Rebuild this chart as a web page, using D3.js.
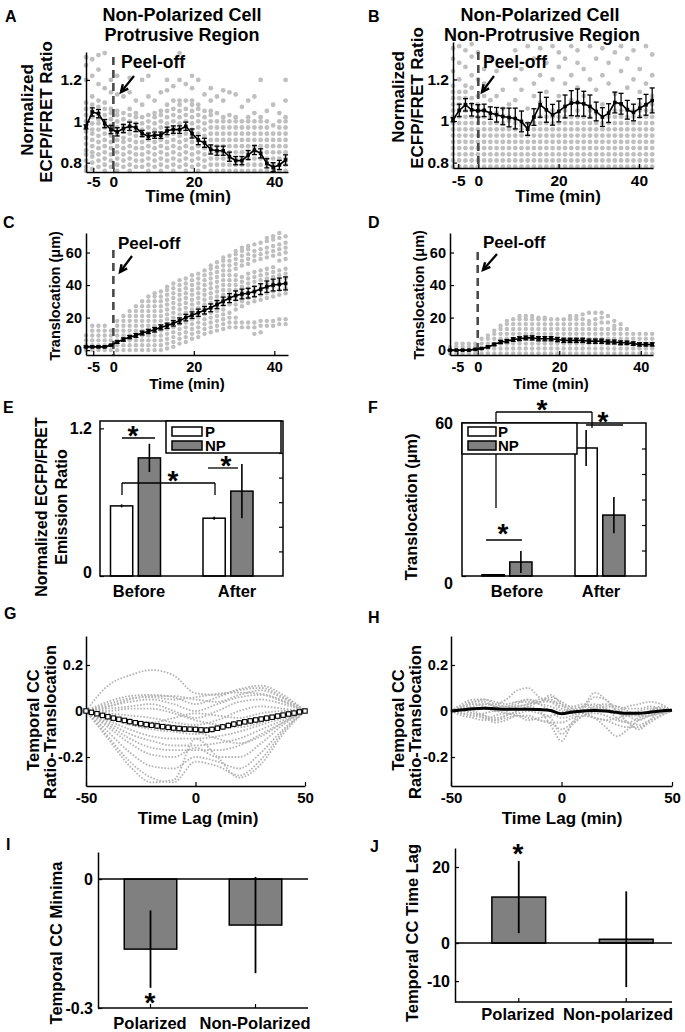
<!DOCTYPE html>
<html><head><meta charset="utf-8">
<script src="https://cdn.jsdelivr.net/npm/d3@7"></script>
<style>
body{margin:0;background:#fff;}
svg text{font-family:"Liberation Sans",Arial,Helvetica,sans-serif;font-weight:bold;fill:#000;}
</style></head><body>
<svg id="fig" width="685" height="1032"></svg>
<script>
// ---------------- DATA ----------------
const timesA = [-6.8,-5.25,-3.7,-2.15,-0.6,0.95,2.5,4.05,5.6,7.15,8.7,10.25,11.8,13.35,14.9,16.45,18,19.55,21.1,22.65,24.2,25.75,27.3,28.85,30.4,31.95,33.5,35.05,36.6,38.15,39.7,41.25,42.8];
const timesB = [-6.3,-4.75,-3.2,-1.65,-0.1,1.45,3,4.55,6.1,7.65,9.2,10.75,12.3,13.85,15.4,16.95,18.5,20.05,21.6,23.15,24.7,26.25,27.8,29.35,30.9,32.45,34,35.55,37.1,38.65,40.2,41.75,43.3];
const timeTicks = [-5,0,20,40];

const meanA = [0.973,1.045,1.037,0.989,0.96,0.949,0.965,0.976,0.97,0.941,0.928,0.933,0.933,0.954,0.96,0.96,0.976,0.941,0.909,0.896,0.864,0.858,0.858,0.829,0.81,0.81,0.837,0.861,0.845,0.797,0.778,0.789,0.813];
const errA = [0.01,0.02,0.02,0.02,0.02,0.02,0.02,0.02,0.02,0.015,0.015,0.015,0.015,0.018,0.018,0.018,0.02,0.022,0.022,0.022,0.022,0.022,0.022,0.022,0.02,0.02,0.022,0.022,0.022,0.022,0.022,0.022,0.025];
// gray cell values per time point (hundredths)
const dotsA = [
[76,78,81,84,86,89,92,95,97,100,103,106,109,120,127,131],
[77,80,83,85,88,91,94,96,99,102,105,108,112,122,130],
[78,81,84,87,90,93,96,99,101,104,107,110,118,125,132],
[76,79,82,85,88,91,94,97,100,103,106,109,116,133],
[78,81,84,87,90,93,95,98,101,104,106,114,120],
[76,79,82,85,88,91,94,97,100,103,105,113,122],
[78,81,84,87,90,92,95,98,101,104,112],
[76,79,82,85,88,91,94,97,100,103,106,114,121],
[78,81,84,87,90,93,96,99,102,104,110],
[78,81,84,87,90,93,96,99,102,108,120],
[76,79,82,85,88,91,94,97,100,103,112,122],
[78,81,84,87,90,93,96,99,102,104,110],
[76,79,82,85,88,91,94,97,100,103,105,114],
[78,81,84,87,90,93,96,99,102,105,108,115,120],
[76,79,82,85,88,91,94,97,100,103,106,110,117],
[78,81,84,87,90,93,96,99,102,105,108,110,120,133],
[76,79,82,85,88,91,94,97,100,103,106,110,118],
[78,81,84,87,90,93,96,99,102,105,108,110,116,122],
[76,79,82,85,88,91,94,97,100,103,106,108,120],
[78,81,84,87,90,93,96,99,102,105,113],
[76,79,82,85,88,91,94,97,100,103,105,110,116],
[76,79,82,85,88,91,94,97,100,104,112],
[76,79,82,85,88,91,94,97,100,102,110,115],
[76,79,82,85,88,91,94,97,100,103,114],
[76,79,82,85,88,91,94,97,100,102,113],
[76,79,82,85,88,91,94,97,100,107],
[76,79,82,85,88,91,94,97,100,102,110],
[76,79,82,85,88,91,94,97,100,104,112],
[76,79,82,85,88,91,94,97,100,102,120],
[76,79,82,85,88,91,94,97,100,105],
[76,79,82,85,88,91,94,98,108],
[76,79,82,85,88,91,94,97,100,104],
[76,79,82,85,88,91,94,97,100,102,110,120]];

const meanB = [1.006,1.051,1.078,1.054,1.049,1.051,1.038,1.03,1.022,1.017,1.012,0.998,0.961,1.019,1.078,1.054,1.03,1.046,1.07,1.086,1.089,1.083,1.07,1.046,1.019,1.038,1.089,1.083,1.054,1.041,1.062,1.078,1.099];
const errB = [0.01,0.03,0.03,0.03,0.03,0.03,0.03,0.035,0.04,0.045,0.05,0.05,0.03,0.04,0.06,0.06,0.05,0.05,0.055,0.06,0.065,0.06,0.055,0.045,0.045,0.045,0.05,0.05,0.045,0.04,0.045,0.05,0.06];
const dotsB = [
[78,81,84,87,90,93,96,99,102,105,108,111,114,117,124,130,135],
[78,81,84,87,90,93,96,99,102,105,108,111,114,120,128,136],
[78,81,84,87,90,93,96,99,102,105,108,111,114,117,126,134],
[78,81,84,87,90,93,96,99,102,105,108,111,116,122,131,137],
[78,81,84,87,90,93,96,99,102,105,108,112,120,133],
[78,81,84,87,90,93,96,99,102,105,112,118,125],
[78,81,84,87,90,93,96,99,102,110,130],
[78,81,84,87,90,93,96,99,104,112,124],
[78,81,84,87,90,93,96,99,106,115],
[78,81,84,87,90,93,96,100,108,128],
[78,81,84,87,90,93,96,99,110,120,134],
[78,81,84,87,90,93,96,98,115,125],
[78,81,84,87,90,93,96,99,106,136],
[78,81,84,87,90,93,96,99,102,112,118,130],
[78,81,84,87,90,93,96,99,102,109,122,135],
[78,81,84,87,90,93,96,99,102,114,128],
[78,81,84,87,90,93,96,99,102,105,120,136],
[78,81,84,87,90,93,96,99,102,112,126,133],
[78,81,84,87,90,93,96,99,102,105,118,130],
[78,81,84,87,90,93,96,99,102,110,122,136],
[78,81,84,87,90,93,96,99,102,105,116,128,134],
[78,81,84,87,90,93,96,99,102,112,125],
[78,81,84,87,90,93,96,99,102,105,120,136],
[78,81,84,87,90,93,96,99,104,115,130],
[78,81,84,87,90,93,96,99,108,122,135],
[78,81,84,87,90,93,96,99,102,118,128],
[78,81,84,87,90,93,96,99,102,105,113,133],
[78,81,84,87,90,93,96,99,102,105,108,124,136],
[78,81,84,87,90,93,96,99,102,106,116,130],
[78,81,84,87,90,93,96,99,102,105,120,134],
[78,81,84,87,90,93,96,99,102,105,108,114,125],
[78,81,84,87,90,93,96,99,102,105,108,118,136],
[78,81,84,87,90,93,96,99,102,105,108,112,122,132]];

const meanC = [2,2,2,2,3,5,6.5,8,9,10.5,11.5,12.5,14,15,16.5,18,20,21.5,23,24.5,26,28,30,32,33.5,34.5,35,36,37.5,39,40,40.5,41];
const errC = [0.5,0.5,0.5,0.5,0.5,0.8,1,1,1.2,1.2,1.3,1.4,1.5,1.6,1.7,1.8,2,2,2.2,2.3,2.4,2.5,2.6,2.8,2.9,3,3,3.2,3.3,3.5,3.6,3.8,4];
const dotsC = [
[0,3,6,9],[0,3,6,9,12,15],[0,3,6,9,12,15],[0,3,6,9,12,15],[0,3,6,9,12],
[0,3,6,9,12,15,18],[0,3,6,9,12,15,18,21],[0,3,6,9,12,15,18,21,24],
[0,3,6,9,12,15,18,21,24,27],[0,3,6,9,12,15,18,21,24,27,30],
[0,3,6,9,12,15,18,21,24,27,30,33],[0,3,6,9,12,15,18,21,24,27,30,33,35],
[0,3,6,9,12,15,18,21,24,27,30,33,36],[1,4,7,10,13,16,19,22,25,28,31,34,37,39],
[2,5,8,11,14,17,20,23,26,29,32,35,38,41],[4,7,10,13,16,19,22,25,28,31,34,37,40,43],
[5,8,11,14,17,20,23,26,29,32,35,38,41,44],[7,10,13,16,19,22,25,28,31,34,37,40,43,46],
[8,11,14,17,20,23,26,29,32,35,38,41,44,47],[10,13,16,19,22,25,28,31,34,37,40,43,46,49],
[11,14,17,20,23,26,29,32,35,38,41,44,47,50,52],[12,15,18,21,24,27,30,33,36,39,42,45,48,51,54],
[13,16,19,22,25,28,31,34,37,40,43,46,49,52,55,57],[14,17,20,23,28,31,34,37,40,43,46,49,52,55,58],
[14,17,20,25,28,31,34,37,40,43,46,50,53,56,59,61],[14,17,27,30,33,36,39,42,45,52,55,58,61,63],
[14,17,29,32,35,38,41,44,47,53,56,59,62,64],[10,14,17,30,33,36,39,42,45,48,55,58,61,65],
[11,15,18,31,34,37,40,43,46,49,56,59,62,66],[15,18,32,35,38,41,44,47,50,57,60,63,67,69],
[15,18,33,36,39,42,45,48,51,58,61,64,68,70],[16,19,34,37,40,43,46,49,55,59,62,65,69,72],
[16,19,35,38,41,44,47,50,56,60,63,66,70]];

const meanD = [0,0,0,0,0.5,1,2,3.5,5,5.5,6.5,7,7.5,7.5,7,7,7,6.5,6,6,6,6,5.5,5.5,5.5,5,5,4.5,4.5,4,3.5,3.5,3.5];
const errD = [0.3,0.3,0.3,0.3,0.3,0.4,0.6,0.8,1,1,1.1,1.2,1.2,1.3,1.3,1.3,1.3,1.3,1.3,1.3,1.3,1.3,1.3,1.3,1.3,1.2,1.2,1.2,1.1,1.1,1,1,1];
const dotsD = [
[-2,0,2],[-2,0,2,4],[-2,0,2,4],[-2,0,2,4],[-2,0,2,4],[-2,1,4,7],[-2,1,4,7,9],
[-2,1,4,7,10,12],[-2,1,4,7,10,13,15],[-2,1,4,7,10,13,16,18],[-2,1,4,7,10,13,16,19],
[-2,1,4,7,10,13,16,19,21],[-2,1,4,7,10,13,16,19,21],[-2,1,4,7,10,13,16,19,21],
[-2,1,4,7,10,13,16,19,20],[-2,1,4,7,10,13,16,19,20],[-2,1,4,7,10,13,16,19],
[-2,1,4,7,10,13,16,19],[-2,1,4,7,10,13,16,19],[-2,1,4,7,10,13,16,19,21],
[-2,1,4,7,10,13,16,19,21],[-2,1,4,7,10,13,16,19,22],[-2,1,4,7,10,13,16,18,23],
[-2,1,4,7,10,13,16,19,23],[-2,1,4,7,10,13,17,20,23],[-2,1,4,7,10,13,17,21],
[-2,1,4,7,10,13,15,18],[-2,1,4,7,10,13,16],[-2,1,4,7,10,13],[-2,1,4,7,10],
[-2,1,4,7,10],[-2,1,4,7,10],[-2,1,4,7,10]];

// E / F bars
const groups = ["Before","After"];
const series = ["P","NP"];
const eP = [0.57,0.47], eNP = [0.96,0.69], eErrP = [0.012,0.012], eErrNP = [0.115,0.22];
const fP = [0.5,50.2], fNP = [5.5,23.9], fErrP = [0.3,7.1], fErrNP = [4.3,7.1];

// G / H cross-correlation
const lagsG = [-50,-40,-30,-20,-10,0,10,20,30,40,50];
const gCurves = [
[0,0.11,0.155,0.178,0.155,0.077,0.07,0.095,0.11,0.07,0],
[0,0.04,0.065,0.07,0.06,0.03,0.06,0.09,0.1,0.06,0],
[0,0.03,0.055,0.06,0.05,0.06,0.075,0.08,0.075,0.045,0],
[0,0.02,0.04,0.05,0.03,0.0,0.03,0.06,0.07,0.04,0],
[0,0.01,0.02,0.03,0.0,-0.03,0.0,0.04,0.05,0.03,0],
[0,-0.01,-0.02,-0.03,-0.05,-0.06,-0.04,0.0,0.02,0.01,0],
[0,-0.03,-0.06,-0.08,-0.09,-0.1,-0.08,-0.05,-0.03,-0.01,0],
[0,-0.04,-0.08,-0.11,-0.12,-0.12,-0.11,-0.09,-0.06,-0.03,0],
[0,-0.05,-0.1,-0.13,-0.15,-0.15,-0.14,-0.12,-0.08,-0.04,0],
[0,-0.06,-0.12,-0.16,-0.17,-0.17,-0.17,-0.15,-0.1,-0.05,0],
[0,-0.07,-0.14,-0.19,-0.2,-0.16,-0.2,-0.2,-0.14,-0.06,0],
[0,-0.09,-0.18,-0.24,-0.25,-0.2,-0.22,-0.25,-0.18,-0.08,0],
[0,-0.11,-0.22,-0.29,-0.31,-0.22,-0.24,-0.28,-0.21,-0.09,0],
[0,-0.12,-0.24,-0.31,-0.3,-0.12,-0.2,-0.29,-0.23,-0.1,0],
[0,-0.02,-0.04,-0.06,-0.08,-0.09,-0.12,-0.14,-0.11,-0.05,0],
[0,0.0,0.01,0.01,-0.01,-0.04,-0.06,-0.07,-0.05,-0.02,0],
[0,-0.03,-0.05,-0.05,-0.03,-0.01,-0.02,-0.03,-0.01,0.0,0],
[0,0.02,0.05,0.065,0.065,0.05,0.04,0.07,0.09,0.055,0]];
const lagsGM = [-50,-47.5,-45,-42.5,-40,-37.5,-35,-32.5,-30,-27.5,-25,-22.5,-20,-17.5,-15,-12.5,-10,-7.5,-5,-2.5,0,2.5,5,7.5,10,12.5,15,17.5,20,22.5,25,27.5,30,32.5,35,37.5,40,42.5,45,47.5,50];
const gMean = [0,-0.006,-0.012,-0.019,-0.025,-0.031,-0.036,-0.041,-0.046,-0.051,-0.055,-0.059,-0.062,-0.065,-0.068,-0.071,-0.074,-0.076,-0.078,-0.079,-0.08,-0.082,-0.083,-0.08,-0.075,-0.069,-0.063,-0.057,-0.052,-0.047,-0.043,-0.039,-0.035,-0.031,-0.027,-0.022,-0.018,-0.013,-0.009,-0.004,0];
const gErr = [0,0.003,0.005,0.007,0.008,0.009,0.01,0.011,0.012,0.012,0.012,0.012,0.012,0.012,0.012,0.012,0.012,0.012,0.012,0.012,0.012,0.012,0.012,0.012,0.012,0.012,0.012,0.012,0.012,0.012,0.012,0.011,0.011,0.01,0.009,0.008,0.007,0.006,0.005,0.003,0];
const lagsH = [-50,-45,-40,-35,-30,-25,-20,-15,-10,-5,0,5,10,15,20,25,30,35,40,45,50];
const hCurves = [
[0,0.01,0.02,0.03,0.03,0.05,0.09,0.1,0.06,0.04,0.01,0,0.02,0.01,0,-0.01,-0.02,0,0.01,0.01,0],
[0,0.02,0.04,0.04,0.02,0.02,0.04,0.05,0.04,0.07,0.03,-0.01,0.02,0.08,0.05,0,-0.02,-0.02,0,0.02,0],
[0,0,-0.01,-0.02,-0.04,-0.02,0,0.02,0,-0.06,-0.13,-0.05,0.01,0.06,0.05,0,-0.05,-0.08,-0.04,0,0],
[0,0.01,0.03,0.03,0.02,0,0.02,0.03,0.04,0.04,0.03,0,-0.01,-0.03,-0.07,-0.11,-0.08,-0.04,-0.02,-0.01,0],
[0,-0.01,-0.02,-0.03,-0.05,-0.04,-0.02,-0.03,-0.04,-0.05,-0.08,-0.05,-0.02,0,0.02,0.01,-0.02,-0.04,-0.02,-0.01,0],
[0,0.02,0.04,0.05,0.04,0.03,0.04,0.04,0.03,0.02,0,-0.01,0,0.01,0.02,0.02,0.01,0.01,0.02,0.01,0],
[0,-0.01,-0.02,-0.01,0,-0.01,-0.02,-0.04,-0.03,-0.02,-0.01,0.01,0.02,0.03,0.01,-0.03,-0.05,-0.06,-0.04,-0.02,0],
[0,0.01,0,-0.02,-0.03,-0.02,0,0.02,0.04,0.06,0.04,0.01,-0.01,-0.03,-0.04,-0.03,-0.02,-0.01,0,0.01,0],
[0,0.02,0.03,0.02,0,0.01,0.03,0.05,0.03,0,-0.03,-0.02,0,0.02,0.03,0.02,0,-0.02,-0.02,0,0],
[0,0,-0.01,-0.03,-0.04,-0.03,-0.02,-0.02,-0.04,-0.05,-0.05,-0.03,-0.02,-0.03,-0.04,-0.06,-0.07,-0.07,-0.05,-0.02,0],
[0,0.03,0.05,0.05,0.03,0.02,0.02,0.03,0.05,0.05,0.02,0.02,0.03,0.02,0.01,0,0.02,0.03,0.04,0.03,0],
[0,-0.02,-0.03,-0.04,-0.02,-0.01,-0.01,0,-0.01,-0.03,-0.1,-0.06,-0.02,-0.01,-0.02,-0.04,-0.05,-0.03,-0.01,0,0]];
const hMean = [0,0.005,0.01,0.012,0.01,0.008,0.008,0.008,0.006,0.002,-0.012,-0.004,0,0.002,0,-0.006,-0.01,-0.01,-0.005,0,0.003];

// I / J bars
const iCats = ["Polarized","Non-Polarized"], iVals = [-0.163,-0.107], iErr = [0.09,0.112];
const jCats = ["Polarized","Non-polarized"], jVals = [12.1,1.0], jErr = [9.5,12.6];

// ---------------- HELPERS ----------------
const svg = d3.select("#fig");
const DOT = "#bfbfbf", BARGRAY = "#808080";
function txt(g,x,y,s,size,anchor){return g.append("text").attr("x",x).attr("y",y).attr("dy","0.35em").attr("font-size",size).attr("text-anchor",anchor||"middle").text(s);}
function vtxt(g,cx,cy,s,size){return g.append("text").attr("transform",`translate(${cx},${cy}) rotate(-90)`).attr("dy","0.35em").attr("font-size",size).attr("text-anchor","middle").text(s);}
function seg(g,x1,y1,x2,y2,w,col){return g.append("line").attr("x1",x1).attr("y1",y1).attr("x2",x2).attr("y2",y2).attr("stroke",col||"#000").attr("stroke-width",w||1.5);}
function star(g,cx,cy){g.append("text").attr("x",cx).attr("y",cy+15).attr("font-size",28).attr("text-anchor","middle").text("*");}
function letter(g,x,y,s){g.append("text").attr("x",x).attr("y",y).attr("font-size",16).text(s);}
function styleAxis(ax,size,noDomain){
  ax.attr("font-size",size).attr("font-family",null);
  ax.select(".domain").attr("stroke-width",1.5);
  if(noDomain) ax.select(".domain").remove();
  ax.selectAll(".tick line").attr("stroke-width",1.2);
}
function arrow(g,x1,y1,x2,y2){
  seg(g,x1,y1,x2,y2,2.2);
  const dx=x2-x1, dy=y2-y1, L=Math.hypot(dx,dy), ux=dx/L, uy=dy/L, h=8, a=0.45;
  const p1=[x2-h*(ux*Math.cos(a)-uy*Math.sin(a)), y2-h*(uy*Math.cos(a)+ux*Math.sin(a))];
  const p2=[x2-h*(ux*Math.cos(a)+uy*Math.sin(a)), y2-h*(uy*Math.cos(a)-ux*Math.sin(a))];
  g.append("path").attr("d",`M${p1[0]},${p1[1]}L${x2},${y2}L${p2[0]},${p2[1]}`).attr("fill","none").attr("stroke","#000").attr("stroke-width",2.4);
}

function timePanel(o){
  const g = svg.append("g");
  const x = d3.scaleLinear().domain(o.xDomain).range(o.xRange);
  const y = d3.scaleLinear().domain(o.yDomain).range(o.yRange);
  const pts = o.dots.flatMap((col,i)=>col.map(v=>({t:o.times[i], v:v*o.dotScale})));
  g.append("g").selectAll("circle").data(pts).join("circle")
    .attr("cx",d=>x(d.t)).attr("cy",d=>y(d.v)).attr("r",o.r).attr("fill",DOT);
  o.yLabs.forEach(l=>vtxt(g,l[0],l[1],l[2],o.yLabFont));
  txt(g,o.xLab[0],o.xLab[1],"Time (min)",o.xLabFont);
  const ay = g.append("g").attr("transform",`translate(${o.xRange[0]},0)`)
    .call(d3.axisLeft(y).tickValues(o.yTicks).tickSizeInner(-4).tickSizeOuter(0).tickPadding(4).tickFormat(d=>String(d)));
  const ax = g.append("g").attr("transform",`translate(0,${o.yRange[0]})`)
    .call(d3.axisBottom(x).tickValues(timeTicks).tickSizeInner(-4).tickSizeOuter(0).tickPadding(o.xPad).tickFormat(d=>String(d)));
  styleAxis(ay,o.tickFont); styleAxis(ax,o.tickFont);
  seg(g,x(0),o.dashTop,x(0),o.yRange[0],2.6,"#4a4a4a").attr("stroke-dasharray","8 5");
  const m = o.mean.map((v,i)=>({t:o.times[i],v,e:o.err[i]}));
  g.append("path").datum(m).attr("fill","none").attr("stroke","#000").attr("stroke-width",1.6)
    .attr("d",d3.line().x(d=>x(d.t)).y(d=>y(d.v)));
  const eb = g.append("g").selectAll("g").data(m).join("g");
  eb.append("line").attr("x1",d=>x(d.t)).attr("x2",d=>x(d.t)).attr("y1",d=>y(d.v-d.e)).attr("y2",d=>y(d.v+d.e)).attr("stroke","#000").attr("stroke-width",1.3);
  [-1,1].forEach(s=>eb.append("line").attr("x1",d=>x(d.t)-2.5).attr("x2",d=>x(d.t)+2.5).attr("y1",d=>y(d.v+s*d.e)).attr("y2",d=>y(d.v+s*d.e)).attr("stroke","#000").attr("stroke-width",1.3));
  eb.append("rect").attr("x",d=>x(d.t)-1.8).attr("y",d=>y(d.v)-1.8).attr("width",3.6).attr("height",3.6).attr("fill","#000");
  txt(g,o.peel[0],o.peel[1],"Peel-off",o.peelFont,"start");
  arrow(g,o.arrow[0],o.arrow[1],o.arrow[2],o.arrow[3]);
  letter(g,o.letter[0],o.letter[1],o.letter[2]);
  (o.titles||[]).forEach(t=>txt(g,t[0],t[1],t[2],18));
  return g;
}

// ---------------- PANELS A-D ----------------
timePanel({times:timesA,dots:dotsA,dotScale:0.01,r:2.4,mean:meanA,err:errA,
  xDomain:[-6.8,43.4],xRange:[86,288],yDomain:[0.755,1.335],yRange:[172,52],yTicks:[0.8,1,1.2],
  tickFont:15.5,xPad:4,dashTop:57,peel:[121,62],peelFont:17.5,arrow:[134,76,121,92],xLab:[188,196],xLabFont:17,
  yLabs:[[27,110,"Normalized"],[46,112,"ECFP/FRET Ratio"]],yLabFont:17,letter:[5,22,"A"],
  titles:[[182,15,"Non-Polarized Cell"],[182,35,"Protrusive Region"]]});
timePanel({times:timesB,dots:dotsB,dotScale:0.01,r:2.4,mean:meanB,err:errB,
  xDomain:[-6.3,43.5],xRange:[453,653],yDomain:[0.774,1.38],yRange:[168,42],yTicks:[0.8,1,1.2],
  tickFont:15.5,xPad:7,dashTop:52,peel:[483,62],peelFont:17.5,arrow:[494,76,482,92],xLab:[558,196],xLabFont:17,
  yLabs:[[398,97,"Normalized"],[417,98,"ECFP/FRET Ratio"]],yLabFont:17,letter:[368,22,"B"],
  titles:[[540,15,"Non-Polarized Cell"],[542,35,"Non-Protrusive Region"]]});
timePanel({times:timesA,dots:dotsC,dotScale:1,r:2.2,mean:meanC,err:errC,
  xDomain:[-6.8,43.4],xRange:[86,288],yDomain:[-3,72],yRange:[355,233],yTicks:[0,20,40,60],
  tickFont:14.5,xPad:7,dashTop:250,peel:[118,243],peelFont:17,arrow:[132,256,120,272],xLab:[187,384],xLabFont:15,
  yLabs:[[55,296,"Translocation (μm)"]],yLabFont:14.5,letter:[3,228,"C"]});
timePanel({times:timesA,dots:dotsD,dotScale:1,r:2.2,mean:meanD,err:errD,
  xDomain:[-6.8,43],xRange:[450,653],yDomain:[-3,72],yRange:[355,233],yTicks:[0,20,40,60],
  tickFont:14.5,xPad:7,dashTop:252,peel:[483,242],peelFont:17,arrow:[497,254,483,270],xLab:[551,384],xLabFont:15,
  yLabs:[[419,295,"Translocation (μm)"]],yLabFont:14.5,letter:[368,228,"D"]});

// ---------------- PANELS E-F ----------------
function barPanel(o){
  const g = svg.append("g");
  const xg = d3.scalePoint().domain(groups).range(o.groupX);
  const xs = d3.scaleBand().domain(series).range([-25,25]).paddingInner(0.2);
  const y = d3.scaleLinear().domain(o.yDomain).range([o.box[3],o.box[1]]);
  const rows = groups.flatMap((gr,i)=>[
    {g:gr,s:"P",v:o.P[i],e:o.errP[i]},{g:gr,s:"NP",v:o.NP[i],e:o.errNP[i]}]);
  g.selectAll("rect.bar").data(rows).join("rect").attr("class","bar")
    .attr("x",d=>xg(d.g)+xs(d.s)).attr("width",xs.bandwidth())
    .attr("y",d=>y(d.v)).attr("height",d=>y(0)-y(d.v))
    .attr("fill",d=>d.s==="P"?"#fff":BARGRAY).attr("stroke","#000").attr("stroke-width",1.5);
  g.selectAll("line.err").data(rows).join("line").attr("class","err")
    .attr("x1",d=>xg(d.g)+xs(d.s)+xs.bandwidth()/2).attr("x2",d=>xg(d.g)+xs(d.s)+xs.bandwidth()/2)
    .attr("y1",d=>y(d.v-d.e)).attr("y2",d=>y(d.v+d.e)).attr("stroke","#000").attr("stroke-width",1.6);
  return {g,xg,xs,y};
}

// E
{
  const box=[100,421,283,576];
  const {g,y} = barPanel({groupX:[135.5,228],yDomain:[0,1.26],box,P:eP,NP:eNP,errP:eErrP,errNP:eErrNP});
  g.append("rect").attr("x",box[0]).attr("y",box[1]).attr("width",box[2]-box[0]).attr("height",box[3]-box[1]).attr("fill","none").attr("stroke","#000").attr("stroke-width",1.5);
  const al = g.append("g").attr("transform",`translate(${box[0]},0)`).call(d3.axisLeft(y).tickValues([0,1.2]).tickSizeInner(-4).tickSizeOuter(0).tickPadding(8).tickFormat(d=>String(d)));
  styleAxis(al,16,true);
  al.selectAll(".tick text").filter(d=>d===0).attr("dy","0.1em");
  const ar = g.append("g").attr("transform",`translate(${box[2]},0)`).call(d3.axisRight(y).tickValues([0.2,0.4,0.6,0.8,1.0]).tickSizeInner(-4).tickSizeOuter(0).tickFormat(""));
  styleAxis(ar,10,true);
  const xl = d3.scalePoint().domain(groups).range([139,237]);
  groups.forEach(gr=>txt(g,xl(gr),591,gr,16.5));
  g.append("rect").attr("x",166).attr("y",421).attr("width",115).attr("height",32).attr("fill","#fff").attr("stroke","#000").attr("stroke-width",1.5);
  g.append("rect").attr("x",172).attr("y",427).attr("width",30).attr("height",9).attr("fill","#fff").attr("stroke","#000").attr("stroke-width",1.5);
  g.append("rect").attr("x",172).attr("y",441).attr("width",30).attr("height",9).attr("fill",BARGRAY).attr("stroke","#000").attr("stroke-width",1.5);
  txt(g,205,432,"P",15,"start"); txt(g,205,446,"NP",15,"start");
  seg(g,122,438,155,438,1.3); star(g,133,430);
  seg(g,122,483,215,483,1.3); seg(g,122,483,122,495,1.3); seg(g,215,483,215,495,1.3); star(g,173,475);
  seg(g,208,468,238,468,1.3); star(g,226,460);
  vtxt(g,41,507,"Normalized ECFP/FRET",16); vtxt(g,61,507,"Emission Ratio",16);
  letter(g,3,413,"E");
}
// F
{
  const box=[462,423,646,576];
  const g0 = svg.append("g");
  seg(g0,496,412,592,412,1.3); seg(g0,496,412,496,508,1.3); seg(g0,592,412,592,428,1.3);
  const {g,y} = barPanel({groupX:[507,600],yDomain:[0,60],box,P:fP,NP:fNP,errP:fErrP,errNP:fErrNP});
  g.append("rect").attr("x",box[0]).attr("y",box[1]).attr("width",box[2]-box[0]).attr("height",box[3]-box[1]).attr("fill","none").attr("stroke","#000").attr("stroke-width",1.5);
  const al = g.append("g").attr("transform",`translate(${box[0]},0)`).call(d3.axisLeft(y).tickValues([0,60]).tickSizeInner(-4).tickSizeOuter(0).tickPadding(9).tickFormat(d=>String(d)));
  styleAxis(al,16,true);
  al.selectAll(".tick text").filter(d=>d===0).attr("dy","0.8em");
  const ar = g.append("g").attr("transform",`translate(${box[2]},0)`).call(d3.axisRight(y).tickValues([10,20,30,40,50]).tickSizeInner(-4).tickSizeOuter(0).tickFormat(""));
  styleAxis(ar,10,true);
  const xl = d3.scalePoint().domain(groups).range([517,601]);
  groups.forEach(gr=>txt(g,xl(gr),591,gr,16.5));
  g.append("rect").attr("x",462).attr("y",423).attr("width",115).attr("height",31).attr("fill","#fff").attr("stroke","#000").attr("stroke-width",1.5);
  g.append("rect").attr("x",468).attr("y",427).attr("width",28).attr("height",9).attr("fill","#fff").attr("stroke","#000").attr("stroke-width",1.5);
  g.append("rect").attr("x",468).attr("y",441).attr("width",28).attr("height",9).attr("fill",BARGRAY).attr("stroke","#000").attr("stroke-width",1.5);
  txt(g,498,432,"P",15,"start"); txt(g,498,446,"NP",15,"start");
  star(g,542,404);
  seg(g,586,425,623,425,1.3); star(g,603,416);
  seg(g,486,540,522,540,1.3); star(g,503,528);
  vtxt(g,411,507,"Translocation (µm)",16.5);
  letter(g,368,413,"F");
}

// ---------------- PANELS G-H ----------------
function ccPanel(o){
  const g = svg.append("g");
  const x = d3.scaleLinear().domain([-50,50]).range(o.xRange);
  const y = d3.scaleLinear().domain([-0.326,0.326]).range([786,636]);
  const ln = d3.line().x((d,i)=>x(o.lags[i])).y(d=>y(d)).curve(d3.curveMonotoneX);
  g.append("g").selectAll("path").data(o.curves).join("path").attr("d",ln)
    .attr("fill","none").attr("stroke","#b3b3b3").attr("stroke-width",1.8).attr("stroke-dasharray","1.6 1.6");
  txt(g,o.xLab,818,"Time Lag (min)",17);
  vtxt(g,o.yLab1,720,"Temporal CC",16.5); vtxt(g,o.yLab2,722,"Ratio-Translocation",16.5);
  const ay = g.append("g").attr("transform",`translate(${o.xRange[0]},0)`)
    .call(d3.axisLeft(y).tickValues([-0.2,0,0.2]).tickSizeInner(-4).tickSizeOuter(0).tickPadding(3).tickFormat(d=>String(d)));
  const ax = g.append("g").attr("transform","translate(0,786)")
    .call(d3.axisBottom(x).tickValues([-50,0,50]).tickSizeInner(-4).tickSizeOuter(0).tickPadding(6).tickFormat(d=>String(d)));
  styleAxis(ay,14.5); styleAxis(ax,15);
  letter(g,o.letter[0],o.letter[1],o.letter[2]);
  return {g,x,y};
}
{
  const {g,x,y} = ccPanel({xRange:[86,305],lags:lagsG,curves:gCurves,xLab:198,yLab1:33,yLab2:50,letter:[4,619,"G"]});
  const m = gMean.map((v,i)=>({l:lagsGM[i],v,e:gErr[i]}));
  g.append("path").datum(m).attr("fill","none").attr("stroke","#000").attr("stroke-width",2)
    .attr("d",d3.line().x(d=>x(d.l)).y(d=>y(d.v)));
  const eb = g.append("g").selectAll("g").data(m).join("g");
  eb.append("line").attr("x1",d=>x(d.l)).attr("x2",d=>x(d.l)).attr("y1",d=>y(d.v-d.e)).attr("y2",d=>y(d.v+d.e)).attr("stroke","#000").attr("stroke-width",1.1);
  eb.append("rect").attr("x",d=>x(d.l)-2.2).attr("y",d=>y(d.v)-2.2).attr("width",4.4).attr("height",4.4).attr("fill","#fff").attr("stroke","#000").attr("stroke-width",1.1);
}
{
  const {g,x,y} = ccPanel({xRange:[451,672],lags:lagsH,curves:hCurves,xLab:562,yLab1:398,yLab2:415,letter:[368,623,"H"]});
  g.append("path").datum(hMean).attr("fill","none").attr("stroke","#000").attr("stroke-width",3)
    .attr("d",d3.line().x((d,i)=>x(lagsH[i])).y(d=>y(d)).curve(d3.curveMonotoneX));
}

// ---------------- PANELS I-J ----------------
function simpleBar(o){
  const g = svg.append("g");
  const x = d3.scaleBand().domain(o.cats).range(o.band).paddingInner(0.5).paddingOuter(0.25);
  const y = d3.scaleLinear().domain(o.yDomain).range([o.yBottom,o.yTop]);
  const rows = o.cats.map((c,i)=>({c,v:o.vals[i],e:o.err[i]}));
  g.selectAll("rect").data(rows).join("rect")
    .attr("x",d=>x(d.c)).attr("width",x.bandwidth())
    .attr("y",d=>Math.min(y(0),y(d.v))).attr("height",d=>Math.abs(y(0)-y(d.v)))
    .attr("fill",BARGRAY).attr("stroke","#000").attr("stroke-width",1.5);
  seg(g,o.axisX[0],y(0),o.axisX[1],y(0),1.5);
  g.selectAll("line.err").data(rows).join("line").attr("class","err")
    .attr("x1",d=>x(d.c)+x.bandwidth()/2).attr("x2",d=>x(d.c)+x.bandwidth()/2)
    .attr("y1",d=>y(d.v-d.e)).attr("y2",d=>y(d.v+d.e)).attr("stroke","#000").attr("stroke-width",1.8);
  vtxt(g,o.yLab[0],o.yLab[1],o.yLab[2],16.5);
  const ay = g.append("g").attr("transform",`translate(${o.axisX[0]},0)`)
    .call(d3.axisLeft(y).tickValues(o.yTicks).tickSizeInner(-4).tickSizeOuter(0).tickPadding(5).tickFormat(d=>String(d)));
  styleAxis(ay,16);
  seg(g,o.axisX[0],o.yBottom,o.axisX[1],o.yBottom,1.5);
  const ax = g.append("g").attr("transform",`translate(0,${o.yBottom})`)
    .call(d3.axisBottom(x).tickSizeInner(-4).tickSizeOuter(0).tickFormat(""));
  styleAxis(ax,10,true);
  o.cats.forEach((c,i)=>txt(g,o.labX[i],o.labY,c,16.5));
  letter(g,o.letter[0],o.letter[1],o.letter[2]);
  return {g,x,y};
}
{
  const {g} = simpleBar({cats:iCats,vals:iVals,err:iErr,band:[98,308],axisX:[98,308],yDomain:[-0.3,0.063],yBottom:1008,yTop:852,
    yTicks:[-0.3,0],labX:[150,255],labY:1023,yLab:[56,943,"Temporal CC Minima"],letter:[6,850,"I"]});
  star(g,150,997);
}
{
  const {g} = simpleBar({cats:jCats,vals:jVals,err:jErr,band:[465,680],axisX:[455,672],yDomain:[-15.5,25],yBottom:1002,yTop:848,
    yTicks:[-10,0,20],labX:[518,618],labY:1014,yLab:[412,933,"Temporal CC Time Lag"],letter:[370,852,"J"]});
  star(g,518,848);
}
</script>
</body></html>
